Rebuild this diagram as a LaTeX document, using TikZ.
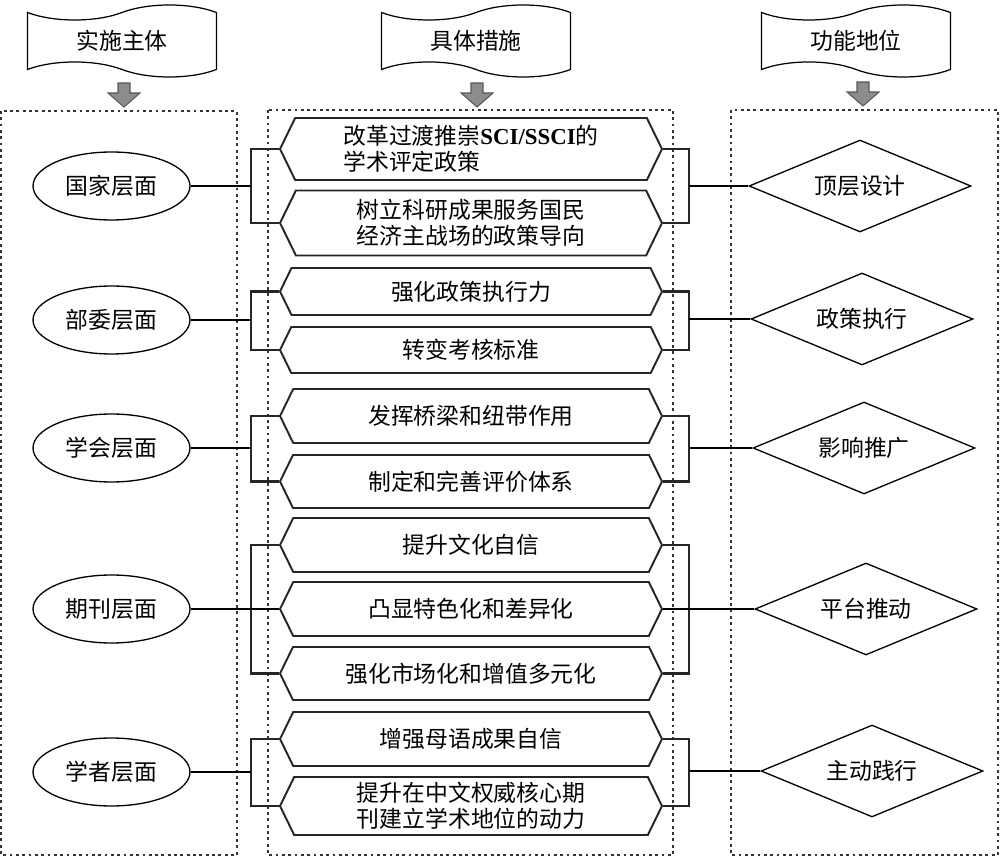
\documentclass[tikz,border=0pt]{standalone}
\usepackage{fontspec}
\setmainfont{Noto Sans CJK SC}
\newfontfamily\latfont{Liberation Serif}
\usetikzlibrary{shapes.geometric,shapes.symbols}

\begin{document}
\begin{tikzpicture}[x=0.02cm, y=-0.02cm,
  font=\fontsize{13}{14.5}\selectfont,
  banner/.style={shape=tape, draw=black, line width=0.7pt, tape bend top=in and out, tape bend bottom=out and in, tape bend height=0.3cm, minimum width=3.78cm, minimum height=1.44cm, inner sep=0pt},
  grayarr/.style={fill=black!45, draw=black!65, line width=0.6pt},
  frame/.style={draw=black!80, line width=0.7pt, dash pattern=on 1.6pt off 2pt},
  level/.style={shape=ellipse, draw=black, line width=0.75pt, minimum width=3.14cm, minimum height=1.36cm, inner sep=0pt},
  measure/.style={shape=signal, signal to=east and west, signal pointer angle=128, draw=black!85, line width=1.1pt, minimum width=7.64cm, inner sep=0pt, align=center},
  role/.style={shape=diamond, draw=black, line width=0.75pt, minimum width=4.44cm, minimum height=1.84cm, inner sep=0pt, aspect=2.4},
  brk/.style={draw=black!85, line width=1.2pt},
  lnk/.style={draw=black, line width=0.75pt}]
\useasboundingbox (0,0) rectangle (1000,857);
% column heads
\node[banner] (b1) at (122,41) {实施主体};
\node[banner] (b2) at (476,41) {具体措施};
\node[banner] (b3) at (856,41) {功能地位};
\draw[grayarr] (124,107) -- ++(-16,-14) -- ++(10,0) -- ++(0,-10) -- ++(12,0) -- ++(0,10) -- ++(10,0) -- cycle;
\draw[grayarr] (477,107) -- ++(-16,-14) -- ++(10,0) -- ++(0,-10) -- ++(12,0) -- ++(0,10) -- ++(10,0) -- cycle;
\draw[grayarr] (863,106) -- ++(-16,-14) -- ++(10,0) -- ++(0,-10) -- ++(12,0) -- ++(0,10) -- ++(10,0) -- cycle;
% columns
\draw[frame] (1,111) rectangle (237,855);
\draw[frame] (268,110) rectangle (673,855);
\draw[frame] (731,110) rectangle (998,855);
% levels
\node[level] (e1) at (111.5,186) {国家层面};
\node[level] (e2) at (111.5,320) {部委层面};
\node[level] (e3) at (111.5,448) {学会层面};
\node[level] (e4) at (111.5,609) {期刊层面};
\node[level] (e5) at (111.5,772) {学者层面};
% measures
\node[measure, minimum height=1.24cm, align=left] (h1) at (471,149) {改革过渡推崇{\latfont\bfseries SCI/SSCI}的\\学术评定政策};
\node[measure, minimum height=1.30cm] (h2) at (471,223) {树立科研成果服务国民\\经济主战场的政策导向};
\node[measure, minimum height=0.94cm] (h3) at (471,291.5) {强化政策执行力};
\node[measure, minimum height=0.92cm] (h4) at (471,350) {转变考核标准};
\node[measure, minimum height=1.08cm] (h5) at (471,416) {发挥桥梁和纽带作用};
\node[measure, minimum height=1.06cm] (h6) at (471,481.5) {制定和完善评价体系};
\node[measure, minimum height=1.08cm] (h7) at (471,545) {提升文化自信};
\node[measure, minimum height=1.08cm] (h8) at (471,609) {凸显特色化和差异化};
\node[measure, minimum height=1.06cm] (h9) at (471,673.5) {强化市场化和增值多元化};
\node[measure, minimum height=1.08cm] (h10) at (471,739) {增强母语成果自信};
\node[measure, minimum height=1.16cm] (h11) at (471,806) {提升在中文权威核心期\\刊建立学术地位的动力};
% roles
\node[role] (d1) at (860,186) {顶层设计};
\node[role] (d2) at (862,319) {政策执行};
\node[role] (d3) at (864,448) {影响推广};
\node[role] (d4) at (866,609) {平台推动};
\node[role] (d5) at (872,771) {主动践行};
% left brackets
\draw[brk] (h1.west) -- ++(-28,0) coordinate (l1) |- (h2.west);
\draw[brk] (h3.west) -- ++(-28,0) coordinate (l2) |- (h4.west);
\draw[brk] (h5.west) -- ++(-28,0) coordinate (l3) |- (h6.west);
\draw[brk] (h7.west) -- ++(-28,0) coordinate (l4) |- (h9.west);
\draw[brk] (h10.west) -- ++(-28,0) coordinate (l5) |- (h11.west);
\draw[lnk] (e1.east) -- (e1.east -| l1);
\draw[lnk] (e2.east) -- (e2.east -| l2);
\draw[lnk] (e3.east) -- (e3.east -| l3);
\draw[lnk] (e4.east) -- (h8.west);
\draw[lnk] (e5.east) -- (e5.east -| l5);
% right brackets
\draw[brk] (h1.east) -- ++(26,0) coordinate (r1) |- (h2.east);
\draw[brk] (h3.east) -- ++(26,0) coordinate (r2) |- (h4.east);
\draw[brk] (h5.east) -- ++(26,0) coordinate (r3) |- (h6.east);
\draw[brk] (h7.east) -- ++(26,0) coordinate (r4) |- (h9.east);
\draw[brk] (h10.east) -- ++(26,0) coordinate (r5) |- (h11.east);
\draw[lnk] (d1.west) -- (d1.west -| r1);
\draw[lnk] (d2.west) -- (d2.west -| r2);
\draw[lnk] (d3.west) -- (d3.west -| r3);
\draw[lnk] (d4.west) -- (h8.east);
\draw[lnk] (d5.west) -- (d5.west -| r5);
\end{tikzpicture}
\end{document}
